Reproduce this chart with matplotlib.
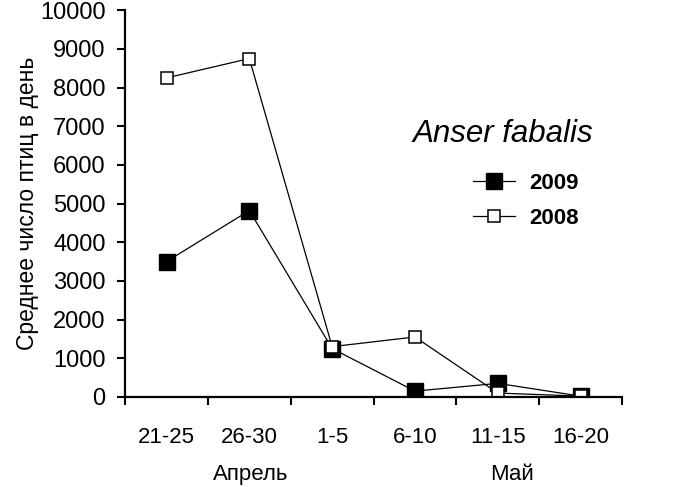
import matplotlib.pyplot as plt

plt.rcParams['font.family'] = ['Liberation Sans', 'DejaVu Sans']

# periods (5-day intervals)
periods = ['21-25', '26-30', '1-5', '6-10', '11-15', '16-20']
birds_2009 = [3500, 4820, 1250, 150, 350, 20]
birds_2008 = [8250, 8750, 1300, 1550, 100, 20]

fig = plt.figure(figsize=(6.95, 4.87), dpi=100)
ax = fig.add_axes([0.18, 0.185, 0.715, 0.794])

x = list(range(len(periods)))
ax.plot(x, birds_2009, color='black', lw=0.9, marker='s', ms=11.5,
        mfc='black', mec='black', label='2009')
ax.plot(x, birds_2008, color='black', lw=0.9, marker='s', ms=9,
        mfc='white', mec='black', mew=1.1, label='2008')

ax.set_xlim(-0.5, 5.5)
ax.set_ylim(0, 10000)
ax.set_yticks(range(0, 10001, 1000))
ax.set_xticks(x)
ax.set_xticklabels(periods, fontsize=16)
ax.set_xticks([i + 0.5 for i in range(-1, 6)], minor=True)
ax.tick_params(axis='x', which='major', length=0, pad=22)
ax.tick_params(axis='x', which='minor', length=6, width=1.5, direction='out')
ax.tick_params(axis='y', labelsize=17, length=6, width=1.5, direction='out', pad=8)

for s in ['top', 'right']:
    ax.spines[s].set_visible(False)
for s in ['left', 'bottom']:
    ax.spines[s].set_linewidth(1.6)

ax.set_ylabel('Среднее число птиц в день', fontsize=16.5, labelpad=1)

ax.text(1.01, -2000, 'Апрель', fontsize=16, ha='center', va='center')
ax.text(4.17, -2000, 'Май', fontsize=16, ha='center', va='center')

ax.text(0.578, 0.68, 'Anser fabalis', transform=ax.transAxes, fontsize=22.5,
        style='italic', ha='left', va='center')

leg = ax.legend(loc='upper left', bbox_to_anchor=(0.70, 0.58), frameon=False,
                prop={'weight': 'bold', 'size': 16}, handlelength=1.9,
                handletextpad=0.65, labelspacing=0.65, borderpad=0,
                borderaxespad=0)

fig.savefig('out.png', dpi=100)
